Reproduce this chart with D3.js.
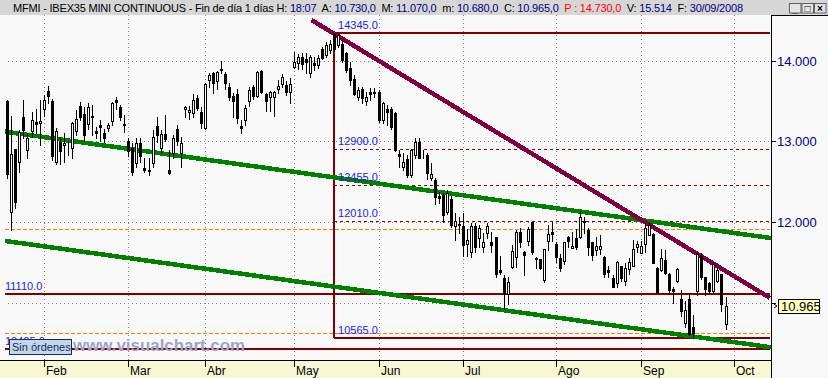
<!DOCTYPE html>
<html>
<head>
<meta charset="utf-8">
<script src="https://cdn.jsdelivr.net/npm/d3@7"></script>
<style>
  body { margin: 0; background: #f8f8f8; }
  svg { display: block; }
</style>
</head>
<body>
<div id="chart"></div>
<script>
var width = 828;
var height = 378;

// daily candles, 21 Jan 2008 .. 30 Sep 2008 (index = trading day)
let open = [
13500,12120,12900,12740,13300,12890,13125,13236,13224,13400,
13620,13500,12740,12990,12950,12860,12920,13125,13440,13335,
13210,13300,13125,13200,13100,13170,13250,13510,13430,13220,
13000,12915,12730,12980,12670,12650,12730,13190,12920,13090,
12650,12860,13150,12850,13400,13360,13350,13540,13360,13160,
13760,13850,13750,13900,13830,13675,13560,13590,13190,13270,
13500,13675,13560,13875,13590,13550,13550,13650,13710,13700,
13610,13920,13975,14045,14020,13850,13975,13950,14140,14070,
14130,14330,14190,14210,14100,13910,13775,13550,13650,13500,
13610,13610,13610,13265,13400,13400,13350,12840,12680,12780,
12580,12830,12990,12860,12830,12550,12520,12320,12330,12120,
12280,11950,11970,11950,11730,11630,11950,11800,11690,11860,
11750,11820,11410,11310,11110,11440,11570,11880,11630,11770,
12000,11550,11540,11280,11760,11880,11730,11560,11520,11820,
11680,11800,11810,12010,11900,11750,11650,11660,11570,11410,
11310,11240,11460,11270,11420,11460,11690,11610,11730,11840,
11850,11430,11400,11530,11350,11170,11270,11040,10750,11040,
10700,11150,11580,11320,11250,11150,11270,11350,10730];

let high = [
13510,13320,12900,13140,13510,13100,13360,13400,13510,13570,
13690,13520,13160,13050,13100,13000,13240,13390,13490,13420,
13480,13450,13180,13260,13150,13225,13490,13550,13450,13330,
13040,12980,13040,13040,12800,12790,13140,13300,13140,13330,
12890,13075,13200,13050,13440,13440,13590,13580,13430,13720,
13850,13860,13870,14000,13860,13720,13600,13650,13260,13450,
13680,13700,13875,13890,13600,13620,13620,13760,13830,13750,
13790,14110,14080,14090,14090,14070,14045,14070,14170,14230,
14255,14345,14330,14270,14110,13985,13820,13680,13670,13610,
13660,13660,13640,13490,13450,13420,13360,12890,12850,12830,
12910,13040,13040,12890,12850,12730,12540,12370,12360,12400,
12320,12110,12060,12110,11910,11990,11990,11960,11860,11990,
11880,11820,11580,11340,11320,11720,11900,11920,11640,11940,
12000,11570,11540,11670,11960,12000,11750,11600,11750,11830,
11880,11910,12120,12060,11920,11750,11810,11840,11580,11460,
11340,11520,11460,11490,11560,11780,11760,11760,11990,11990,
11870,11440,11670,11650,11370,11200,11430,11160,11025,11125,
10850,11610,11610,11320,11260,11500,11430,11350,11070];

let low = [
12550,11900,12170,12615,13040,12800,13050,13100,12950,13320,
13480,12770,12720,12720,12740,12830,12800,13075,13260,13010,
13150,13075,13040,13010,12990,13125,13200,13400,13260,13110,
12820,12580,12680,12740,12620,12580,12680,12990,12860,13010,
12600,12800,12950,12680,13300,13280,13300,13390,13160,13150,
13675,13600,13650,13850,13650,13510,13300,13230,13100,13200,
13440,13520,13550,13600,13380,13380,13320,13600,13670,13570,
13480,13910,13900,13900,13850,13800,13890,13910,14020,14045,
14090,14120,14170,13990,13860,13700,13570,13510,13470,13450,
13510,13550,13240,13230,13200,13150,12880,12680,12640,12555,
12560,12800,12790,12800,12530,12520,12220,12240,12000,12100,
11940,11780,11860,11580,11580,11570,11630,11690,11630,11800,
11630,11320,11350,10920,10990,11430,11440,11690,11340,11720,
11600,11430,11420,11260,11650,11760,11510,11390,11480,11690,
11680,11660,11800,11860,11590,11530,11590,11600,11320,11320,
11190,11200,11270,11220,11350,11450,11630,11610,11630,11840,
11490,11120,11390,11350,11110,11000,11260,10830,10700,10600,
10565,11100,11290,11100,11120,11120,11260,10900,10680];

let close = [
12600,12840,12250,13110,13140,13040,13260,13212,13249,13510,
13560,12820,13125,12875,12975,12850,13225,13280,13300,13075,
13420,13310,13100,13180,13040,13200,13470,13490,13300,13200,
12875,12620,12980,12820,12650,12630,13050,13075,13090,13030,
12610,13040,13000,12975,13430,13390,13510,13410,13225,13710,
13825,13725,13860,13890,13720,13550,13500,13290,13170,13410,
13640,13560,13860,13610,13500,13610,13610,13690,13800,13610,
13710,13985,14045,13960,13980,14045,13950,14030,14030,14190,
14210,14140,14315,14010,13885,13760,13590,13640,13540,13550,
13590,13600,13265,13480,13360,13180,12890,12820,12740,12580,
12890,12990,12800,12850,12610,12600,12310,12300,12090,12360,
11960,12010,11960,11715,11780,11950,11690,11925,11750,11950,
11720,11350,11380,11110,11260,11640,11880,11750,11590,11910,
11630,11540,11430,11660,11850,11850,11570,11430,11750,11770,
11700,11690,12060,12000,11690,11590,11700,11700,11350,11380,
11200,11510,11310,11430,11510,11670,11730,11700,11920,11960,
11490,11130,11550,11370,11160,11150,11420,10900,10910,10615,
10630,11600,11320,11170,11150,11480,11410,10990,10965];

// month labels and the trading-day index where each month starts
let monthNames = ["Feb","Mar","Abr","May","Jun","Jul","Ago","Sep","Oct"];
let monthStart = [9,30,49,71,92,113,136,157,180];

let priceTicks = [11000,12000,13000,14000];
let priceLabels = [12000,13000,14000];   // 11.000 sits under the last-price box
let lastPrice = 10965;

// drawn objects (index, price)
let peakIdx = 81;
let solidLevels = [14345,10565];       // from the peak to the right
let solidLevelsFull = [11110,10425];   // across the whole chart
let dashLevels = [12900,12455,12010];  // from the peak to the right
let orangeLevels = [11910,10630];
let greenLines = [[-0.6,13120,189.3,11801],[-0.6,11766,189.3,10447]];
let purpleLine = [75.4,14504,189,11060];

let header = [
  ["MFMI - IBEX35 MINI CONTINUOUS - Fin de día 1 días H: ","#000"],["18:07","#000080"],
  ["  A: ","#000"],["10.730,0","#000080"],["  M: ","#000"],["11.070,0","#000080"],
  ["  m: ","#000"],["10.680,0","#000080"],["  C: ","#000"],["10.965,0","#000080"],
  ["  P : 14.730,0","#ff0000"],["  V: ","#000"],["15.514","#000080"],
  ["  F: ","#000"],["30/09/2008","#000080"]
];

var plotRight = 771;
var plotTop = 15;
var plotBottom = 360;

let x = d3.scaleLinear().domain([0,178]).range([7.3,725.5]);
let y = d3.scaleLinear().domain([11000,14000]).range([302.7,60.7]);
let xStartFull = x.invert(5);

var svg = d3.select("#chart").append("svg")
  .attr("width",width).attr("height",height)
  .style("font-family","'Liberation Sans', Arial, sans-serif");

svg.append("rect").attr("width",width).attr("height",height).attr("fill","#f8f8f8");

svg.append("clipPath").attr("id","plot")
  .append("rect").attr("x",0).attr("y",plotTop).attr("width",plotRight).attr("height",plotBottom-plotTop);

let plot = svg.append("g").attr("clip-path","url(#plot)").attr("shape-rendering","crispEdges");

// dotted grid
plot.selectAll(".hgrid").data(priceTicks).join("line")
  .attr("x1",8).attr("x2",770)
  .attr("y1",d => Math.round(y(d))+0.5).attr("y2",d => Math.round(y(d))+0.5)
  .attr("stroke","#808080").attr("stroke-dasharray","1,3");
plot.selectAll(".vgrid").data(monthStart).join("line")
  .attr("x1",d => Math.round(x(d))+0.5).attr("x2",d => Math.round(x(d))+0.5)
  .attr("y1",plotTop).attr("y2",plotBottom)
  .attr("stroke","#808080").attr("stroke-dasharray","1,3");

// orange dashed levels
plot.selectAll(".orange").data(orangeLevels).join("line")
  .attr("x1",x(xStartFull)).attr("x2",770)
  .attr("y1",d => Math.round(y(d))+0.5).attr("y2",d => Math.round(y(d))+0.5)
  .attr("stroke","#ff8000").attr("stroke-dasharray","4,2");

// dashed dark red levels
plot.selectAll(".dash").data(dashLevels).join("line")
  .attr("x1",x(peakIdx)).attr("x2",770)
  .attr("y1",d => Math.round(y(d))+0.5).attr("y2",d => Math.round(y(d))+0.5)
  .attr("stroke","#800000").attr("stroke-dasharray","3,3");

// solid dark red levels
plot.selectAll(".solid").data(solidLevels).join("line")
  .attr("x1",x(peakIdx)).attr("x2",770)
  .attr("y1",d => Math.round(y(d))).attr("y2",d => Math.round(y(d)))
  .attr("stroke","#800000").attr("stroke-width",2);
plot.selectAll(".solidfull").data(solidLevelsFull).join("line")
  .attr("x1",x(xStartFull)).attr("x2",770)
  .attr("y1",d => Math.round(y(d))).attr("y2",d => Math.round(y(d)))
  .attr("stroke","#800000").attr("stroke-width",2);
plot.append("line")
  .attr("x1",Math.round(x(peakIdx))).attr("x2",Math.round(x(peakIdx)))
  .attr("y1",Math.round(y(d3.max(solidLevels)))).attr("y2",Math.round(y(d3.min(solidLevels))))
  .attr("stroke","#800000").attr("stroke-width",2);

// trend lines
plot.selectAll(".green").data(greenLines).join("line")
  .attr("x1",d => x(d[0])).attr("y1",d => y(d[1]))
  .attr("x2",d => x(d[2])).attr("y2",d => y(d[3]))
  .attr("stroke","#008000").attr("stroke-width",4.5);
plot.append("line")
  .attr("x1",x(purpleLine[0])).attr("y1",y(purpleLine[1]))
  .attr("x2",x(purpleLine[2])).attr("y2",y(purpleLine[3]))
  .attr("stroke","#800040").attr("stroke-width",4.5);

// candles
let idx = d3.range(open.length);
let cg = plot.selectAll(".candle").data(idx).join("g").attr("class","candle");
cg.append("line")
  .attr("x1",i => Math.round(x(i))+0.5).attr("x2",i => Math.round(x(i))+0.5)
  .attr("y1",i => Math.round(y(high[i]))).attr("y2",i => Math.round(y(low[i]))+1)
  .attr("stroke","#000");
cg.append("rect")
  .attr("x",i => Math.round(x(i))-0.5)
  .attr("y",i => Math.round(y(Math.max(open[i],close[i])))+0.5)
  .attr("width",2)
  .attr("height",i => Math.max(0, Math.round(y(Math.min(open[i],close[i]))) - Math.round(y(Math.max(open[i],close[i])))))
  .attr("fill",i => close[i] >= open[i] ? "#fff" : "#000")
  .attr("stroke","#000");

// level labels
let labelGroup = svg.append("g").attr("font-size","11px").attr("fill","#1c1ce6");
labelGroup.selectAll(".lab").data(solidLevels.concat(dashLevels)).join("text")
  .attr("x",x(peakIdx)+4).attr("y",d => Math.round(y(d))-4)
  .text(d => d.toFixed(1));
labelGroup.selectAll(".labfull").data(solidLevelsFull).join("text")
  .attr("x",5).attr("y",d => Math.round(y(d))-4)
  .text(d => d.toFixed(1));

// watermark and orders box
svg.append("text").attr("x",73).attr("y",351)
  .attr("font-size","16px").attr("font-weight","bold").attr("fill","#9aa5c9")
  .attr("textLength",172).attr("lengthAdjust","spacingAndGlyphs")
  .text("www.visualchart.com");
svg.append("rect").attr("x",9.5).attr("y",339.5).attr("width",62).attr("height",15)
  .attr("fill","#c6d5ee").attr("stroke","#1a2a40");
svg.append("text").attr("x",12).attr("y",351).attr("font-size","11px").attr("fill","#0e3050")
  .text("Sin órdenes");

// bottom axis
let bottom = svg.append("g");
bottom.append("rect").attr("x",0).attr("y",plotBottom).attr("width",plotRight).attr("height",height-plotBottom)
  .attr("fill","#f7f7d4");
bottom.append("line").attr("x1",0).attr("x2",plotRight).attr("y1",plotBottom+0.5).attr("y2",plotBottom+0.5)
  .attr("stroke","#000");
bottom.selectAll(".tick").data(monthStart).join("line")
  .attr("x1",d => Math.round(x(d))+0.5).attr("x2",d => Math.round(x(d))+0.5)
  .attr("y1",plotBottom).attr("y2",plotBottom+7).attr("stroke","#000");
bottom.selectAll(".mlab").data(monthNames).join("text")
  .attr("x",(d,i) => Math.round(x(monthStart[i]))+2).attr("y",375)
  .attr("font-size","12px").attr("fill","#000")
  .text(d => d);

// right axis
let right = svg.append("g");
right.append("line").attr("x1",plotRight+0.5).attr("x2",plotRight+0.5).attr("y1",plotTop).attr("y2",height)
  .attr("stroke","#000");
right.append("line").attr("x1",plotRight).attr("x2",width).attr("y1",plotTop+0.5).attr("y2",plotTop+0.5)
  .attr("stroke","#000");
right.selectAll(".rt").data(priceTicks).join("line")
  .attr("x1",plotRight).attr("x2",plotRight+5)
  .attr("y1",d => Math.round(y(d))+0.5).attr("y2",d => Math.round(y(d))+0.5)
  .attr("stroke","#000");
right.selectAll(".rl").data(priceLabels).join("text")
  .attr("x",777).attr("y",d => Math.round(y(d))+5)
  .attr("font-size","13px").attr("fill","#000080")
  .text(d => d3.format(",")(d).replace(",","."));

// last price box
let ly = Math.round(y(lastPrice));
right.append("path").attr("d",`M${plotRight+3},${ly-2} l3,2 l-3,2`).attr("fill","none").attr("stroke","#000");
right.append("rect").attr("x",778.5).attr("y",ly-6.5).attr("width",41).attr("height",14)
  .attr("fill","#ffffc0").attr("stroke","#000");
right.append("text").attr("x",781).attr("y",ly+5).attr("font-size","13px").attr("fill","#000")
  .text(d3.format(",")(lastPrice).replace(",","."));

// header bar
svg.append("rect").attr("width",width).attr("height",plotTop).attr("fill","#d6d6d6");
let ht = svg.append("text").attr("x",13).attr("y",12).attr("font-size","11px")
  .attr("textLength",730).attr("lengthAdjust","spacing");
ht.selectAll("tspan").data(header).join("tspan")
  .attr("fill",d => d[1]).attr("xml:space","preserve").text(d => d[0]);
ht.attr("style","white-space:pre");

// window buttons
let btn = svg.append("g").selectAll("g").data(["_","□","×"]).join("g")
  .attr("transform",(d,i) => `translate(${789+i*12.5},3)`);
btn.append("rect").attr("width",11.5).attr("height",9.5).attr("x",0.5).attr("y",0.5)
  .attr("fill","#e4e4e4").attr("stroke","#606060");
btn.append("text").attr("x",6).attr("y",8.5).attr("text-anchor","middle")
  .attr("font-size","10px").attr("font-weight","bold").text(d => d);
</script>
</body>
</html>
